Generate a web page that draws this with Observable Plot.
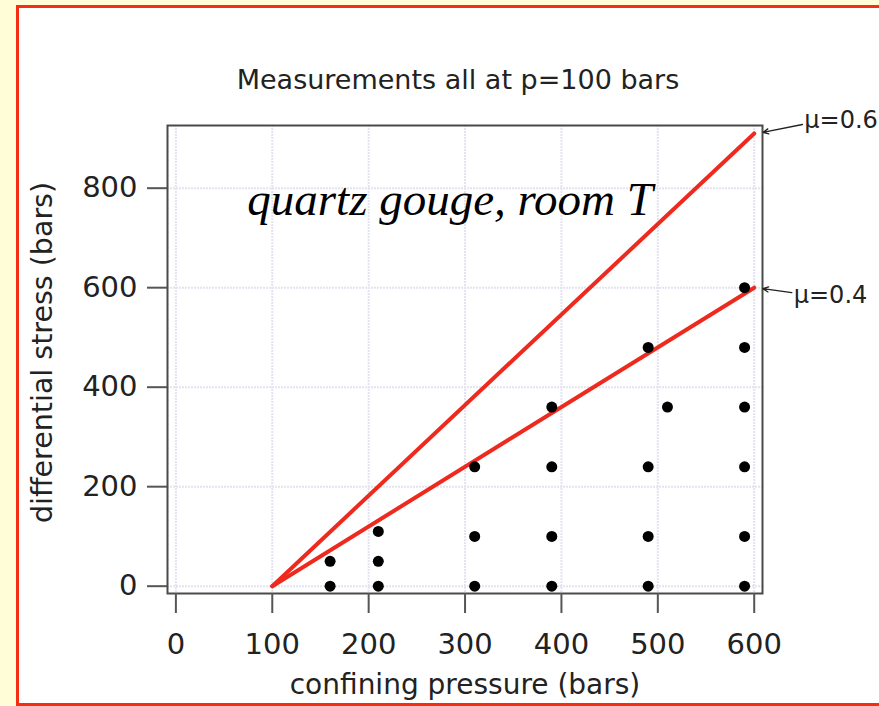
<!DOCTYPE html>
<html><head><meta charset="utf-8">
<script src="https://cdn.jsdelivr.net/npm/d3@7"></script>
<script src="https://cdn.jsdelivr.net/npm/@observablehq/plot@0.6"></script>
<style>
html,body{margin:0;padding:0;background:#fffcd8;width:879px;height:706px;overflow:hidden;}
#panel{position:absolute;left:16px;top:5px;width:900px;height:695px;border:3px solid #f52d12;background:#fff;}
#chart{position:absolute;left:0;top:0;}
</style></head><body>
<div id="panel"></div><div id="chart"></div>
<script>
// data
const pressure = [160,160,210,210,210,310,310,310,390,390,390,390,490,490,490,490,510,590,590,590,590,590,590];
const stress   = [0,50,0,50,110,0,100,240,0,100,240,360,0,100,240,480,360,0,100,240,360,480,600];
const lineP = [100, 600];
const mu06Stress = [0, 910];
const mu04Stress = [0, 600];
const xTicks = [0,100,200,300,400,500,600];
const yTicks = [0,200,400,600,800];
const muLabels = ["μ=0.6","μ=0.4"];
const muLabelX = [652, 641];
const muLabelY = [936, 584];
const arrowX1 = [650, 639];
const arrowY1 = [928, 590];
const arrowX2 = [609, 609];
const arrowY2 = [912, 598];
const title = "Measurements all at p=100 bars";
const note = "quartz gouge, room T";
const noteX = [284.5];
const noteY = [776];
const xLabel = "confining pressure (bars)";
const yLabel = "differential stress (bars)";

const points = pressure.map((p,i)=>({p, s: stress[i]}));
const lines = [
  ...lineP.map((p,i)=>({p, s: mu06Stress[i], mu:"0.6"})),
  ...lineP.map((p,i)=>({p, s: mu04Stress[i], mu:"0.4"}))
];
const labels = muLabels.map((t,i)=>({t, x: muLabelX[i], y: muLabelY[i]}));
const arrows = muLabels.map((t,i)=>({x1: arrowX1[i], y1: arrowY1[i], x2: arrowX2[i], y2: arrowY2[i]}));
const notes = [{t: note, x: noteX[0], y: noteY[0]}];

const sans = "DejaVu Sans";
const chart = Plot.plot({
  width: 879, height: 706,
  marginLeft: 167, marginRight: 117, marginTop: 125, marginBottom: 113,
  x: {domain: [-8.7, 608.6]},
  y: {domain: [-14.7, 926]},
  style: {background: "transparent", fontFamily: sans, color: "#222", overflow: "visible"},
  marks: [
    Plot.gridX(xTicks, {stroke: "#e3e3f1", strokeOpacity: 1, strokeWidth: 2, strokeDasharray: "2,1"}),
    Plot.gridY(yTicks, {stroke: "#e3e3f1", strokeOpacity: 1, strokeWidth: 2, strokeDasharray: "2,1"}),
    Plot.frame({stroke: "#4a4a4a", strokeWidth: 2}),
    Plot.axisX(xTicks, {tickSize: 20, tickPadding: 20, fontSize: 29, stroke: "#555", strokeWidth: 2, fill: "#222", label: null}),
    Plot.axisY(yTicks, {tickSize: 20, tickPadding: 10, fontSize: 29, stroke: "#555", strokeWidth: 2, fill: "#222", label: null}),
    Plot.line(lines, {x: "p", y: "s", z: "mu", stroke: "#ee2a1e", strokeWidth: 4}),
    Plot.dot(points, {x: "p", y: "s", r: 5.5, fill: "black", stroke: null}),
    Plot.arrow(arrows, {x1: "x1", y1: "y1", x2: "x2", y2: "y2", stroke: "#222", strokeWidth: 1.3, headLength: 7, headAngle: 50}),
    Plot.text(labels, {x: "x", y: "y", text: "t", textAnchor: "start", fontSize: 24, fill: "#222"}),
    Plot.text(notes, {x: "x", y: "y", text: "t", fontSize: 47, fontStyle: "italic", fontFamily: "Liberation Serif", fill: "#000"}),
    Plot.text([title], {frameAnchor: "top", lineAnchor: "middle", textAnchor: "middle", dx: -7, dy: -45, text: d => d, fontSize: 27, fill: "#222"}),
    Plot.text([xLabel], {frameAnchor: "bottom", lineAnchor: "middle", textAnchor: "middle", dy: 92, text: d => d, fontSize: 28, fill: "#222"}),
    Plot.text([yLabel], {frameAnchor: "left", lineAnchor: "middle", textAnchor: "middle", dx: -125, dy: -7, rotate: -90, text: d => d, fontSize: 28.5, fill: "#222"})
  ]
});
document.getElementById("chart").appendChild(chart);
</script>
</body></html>
